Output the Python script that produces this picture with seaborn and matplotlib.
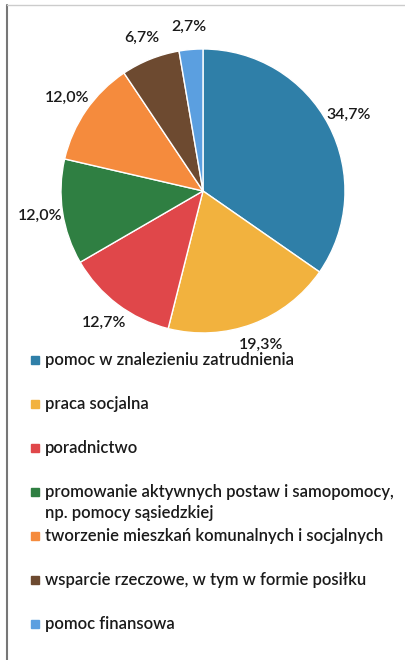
import matplotlib
matplotlib.use("Agg")
import matplotlib.pyplot as plt
import seaborn as sns
from matplotlib.patches import Rectangle
from matplotlib.lines import Line2D

# Data
categories = [
    "pomoc w znalezieniu zatrudnienia",
    "praca socjalna",
    "poradnictwo",
    "promowanie aktywnych postaw i samopomocy,\nnp. pomocy sąsiedzkiej",
    "tworzenie mieszkań komunalnych i socjalnych",
    "wsparcie rzeczowe, w tym w formie posiłku",
    "pomoc finansowa",
]
shares = [34.7, 19.3, 12.7, 12.0, 12.0, 6.7, 2.7]
colors = ["#2f7fa8", "#f2b23e", "#e0474a", "#2f7f42", "#f58b3d", "#6d4a30", "#5b9fe0"]

sns.set_style("white")
plt.rcParams["font.family"] = ["Lato", "DejaVu Sans"]

fig = plt.figure(figsize=(4.05, 6.6), dpi=100)
fig.patch.set_facecolor("white")

# Pie chart
ax = fig.add_axes([0.1506, 0.4955, 0.7012, 0.4303])
wedges, texts, pcts = ax.pie(
    shares,
    colors=colors,
    startangle=90,
    counterclock=False,
    autopct=lambda p: f"{p:.1f}%".replace(".", ","),
    pctdistance=1.16,
    wedgeprops=dict(edgecolor="white", linewidth=1),
    textprops=dict(fontsize=11.5, color="#1a1a1a", fontweight="semibold"),
)
ax.set_xlim(-1, 1)
ax.set_ylim(-1, 1)
ax.set_aspect("equal")

# Legend drawn as a column of square markers and labels
y = 1 - 360 / 660
for name, col in zip(categories, colors):
    fig.patches.append(Rectangle((31 / 405, y - 4 / 660), 8 / 405, 8 / 660,
                                 transform=fig.transFigure, color=col, figure=fig))
    lines = name.split("\n")
    fig.text(45 / 405, y, lines[0], fontsize=12, va="center", color="#1a1a1a",
             fontweight="semibold")
    if len(lines) > 1:
        fig.text(45 / 405, y - 21 / 660, lines[1], fontsize=12, va="center",
                 color="#1a1a1a", fontweight="semibold")
    y -= 44 / 660

# Frame lines from the scan
fig.lines.append(Line2D([7 / 405, 7 / 405], [0, 1 - 5 / 660], transform=fig.transFigure,
                        color="#777777", linewidth=1.5))
fig.lines.append(Line2D([7 / 405, 1], [1 - 5 / 660, 1 - 5 / 660], transform=fig.transFigure,
                        color="#cccccc", linewidth=1))

fig.savefig("out.png", dpi=100)
